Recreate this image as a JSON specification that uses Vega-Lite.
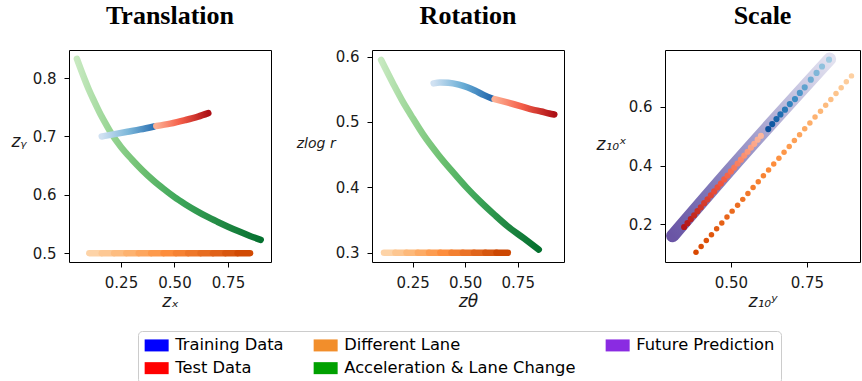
{
  "$schema": "https://vega.github.io/schema/vega-lite/v6.json",
  "background": "white",
  "padding": {"left": 10, "top": 2, "right": 0, "bottom": 0},
  "bounds": "flush",
  "spacing": 101,
  "config": {
    "view": {"stroke": "#000000", "strokeWidth": 1},
    "axis": {"domain": false, "grid": false, "ticks": true, "tickColor": "#000000", "tickSize": 5, "tickWidth": 1,
      "labelFont": "DejaVu Sans", "labelFontSize": 15, "labelColor": "#1a1a1a", "labelPadding": 8,
      "titleFont": "DejaVu Sans", "titleFontStyle": "italic", "titleFontWeight": "normal", "titleFontSize": 17, "titleColor": "#1a1a1a"},
    "axisY": {"titleAngle": 0, "titleAlign": "right", "titleBaseline": "alphabetic", "titleY": 96},
    "axisX": {"titleBaseline": "alphabetic", "titleY": 44},
    "title": {"font": "Liberation Serif", "fontSize": 26, "fontWeight": "bold", "color": "#000000", "frame": "group", "baseline": "alphabetic", "offset": 21},
    "legend": {"labelFont": "DejaVu Sans", "labelFontSize": 16.3, "labelColor": "#000000", "symbolType": "M-1,-0.8H2.2V0.8H-1Z", "symbolSize": 225,
      "labelOffset": 15, "rowPadding": 6, "columnPadding": 29, "padding": 6, "strokeColor": "#cccccc", "cornerRadius": 4, "fillColor": "#ffffff",
      "symbolStrokeWidth": 0, "symbolOpacity": 1, "labelLimit": 400}
  },
  "datasets": {
    "legend": [
      {"series": "Training Data"}, {"series": "Different Lane"}, {"series": "Future Prediction"}, {"series": "Test Data"}, {"series": "Acceleration & Lane Change"}
    ],
    "p1_green": [
      {"x": 0.044, "y": 0.833}, {"x": 0.06, "y": 0.817}, {"x": 0.08, "y": 0.798}, {"x": 0.1, "y": 0.78}, {"x": 0.125, "y": 0.76},
      {"x": 0.15, "y": 0.741}, {"x": 0.175, "y": 0.724}, {"x": 0.2, "y": 0.708}, {"x": 0.25, "y": 0.682}, {"x": 0.3, "y": 0.661},
      {"x": 0.35, "y": 0.642}, {"x": 0.4, "y": 0.625}, {"x": 0.45, "y": 0.61}, {"x": 0.5, "y": 0.596}, {"x": 0.55, "y": 0.584},
      {"x": 0.6, "y": 0.573}, {"x": 0.65, "y": 0.563}, {"x": 0.7, "y": 0.554}, {"x": 0.75, "y": 0.5455}, {"x": 0.8, "y": 0.5375},
      {"x": 0.85, "y": 0.53}, {"x": 0.903, "y": 0.523}
    ],
    "p1_orange": [
      {"x": 0.102, "x2": 0.16, "y": 0.5, "t": 0}, {"x": 0.16, "x2": 0.218, "y": 0.5, "t": 0.083}, {"x": 0.218, "x2": 0.275, "y": 0.5, "t": 0.167},
      {"x": 0.275, "x2": 0.333, "y": 0.5, "t": 0.25}, {"x": 0.333, "x2": 0.391, "y": 0.5, "t": 0.333}, {"x": 0.391, "x2": 0.449, "y": 0.5, "t": 0.417},
      {"x": 0.449, "x2": 0.507, "y": 0.5, "t": 0.5}, {"x": 0.507, "x2": 0.564, "y": 0.5, "t": 0.583}, {"x": 0.564, "x2": 0.622, "y": 0.5, "t": 0.667},
      {"x": 0.622, "x2": 0.68, "y": 0.5, "t": 0.75}, {"x": 0.68, "x2": 0.738, "y": 0.5, "t": 0.833}, {"x": 0.738, "x2": 0.795, "y": 0.5, "t": 0.917},
      {"x": 0.795, "x2": 0.853, "y": 0.5, "t": 1}
    ],
    "p1_blue": [
      {"x": 0.16, "y": 0.7}, {"x": 0.22, "y": 0.704}, {"x": 0.28, "y": 0.708}, {"x": 0.34, "y": 0.712}, {"x": 0.405, "y": 0.717}
    ],
    "p1_red": [
      {"x": 0.415, "y": 0.718}, {"x": 0.48, "y": 0.722}, {"x": 0.55, "y": 0.728}, {"x": 0.61, "y": 0.734}, {"x": 0.658, "y": 0.74}
    ],
    "p2_green": [
      {"x": 0.1, "y": 0.595}, {"x": 0.16, "y": 0.557}, {"x": 0.2, "y": 0.533}, {"x": 0.245, "y": 0.509}, {"x": 0.3, "y": 0.481},
      {"x": 0.372, "y": 0.45}, {"x": 0.44, "y": 0.424}, {"x": 0.506, "y": 0.4}, {"x": 0.57, "y": 0.379}, {"x": 0.64, "y": 0.358},
      {"x": 0.7, "y": 0.341}, {"x": 0.78, "y": 0.322}, {"x": 0.85, "y": 0.305}
    ],
    "p2_orange": [
      {"x": 0.114, "x2": 0.168, "y": 0.3, "t": 0}, {"x": 0.168, "x2": 0.221, "y": 0.3, "t": 0.1}, {"x": 0.221, "x2": 0.275, "y": 0.3, "t": 0.2},
      {"x": 0.275, "x2": 0.328, "y": 0.3, "t": 0.3}, {"x": 0.328, "x2": 0.382, "y": 0.3, "t": 0.4}, {"x": 0.382, "x2": 0.435, "y": 0.3, "t": 0.5},
      {"x": 0.435, "x2": 0.489, "y": 0.3, "t": 0.6}, {"x": 0.489, "x2": 0.542, "y": 0.3, "t": 0.7}, {"x": 0.542, "x2": 0.596, "y": 0.3, "t": 0.8},
      {"x": 0.596, "x2": 0.649, "y": 0.3, "t": 0.9}, {"x": 0.649, "x2": 0.703, "y": 0.3, "t": 1}
    ],
    "p2_blue": [
      {"x": 0.35, "y": 0.559}, {"x": 0.38, "y": 0.5605}, {"x": 0.42, "y": 0.56}, {"x": 0.47, "y": 0.557}, {"x": 0.51, "y": 0.553},
      {"x": 0.546, "y": 0.548}, {"x": 0.59, "y": 0.541}, {"x": 0.628, "y": 0.536}
    ],
    "p2_red": [
      {"x": 0.64, "y": 0.535}, {"x": 0.7, "y": 0.53}, {"x": 0.767, "y": 0.524}, {"x": 0.82, "y": 0.519}, {"x": 0.862, "y": 0.516},
      {"x": 0.9, "y": 0.513}, {"x": 0.924, "y": 0.5115}
    ],
    "p3_purple": [
      {"x": 0.308, "y": 0.161}, {"x": 0.5, "y": 0.39}, {"x": 0.825, "y": 0.762}
    ],
    "p3_orange": [
      {"x": 0.385, "y": 0.105, "t": 0}, {"x": 0.402, "y": 0.125, "t": 1}, {"x": 0.419, "y": 0.145, "t": 2}, {"x": 0.436, "y": 0.165, "t": 3},
      {"x": 0.453, "y": 0.185, "t": 4}, {"x": 0.47, "y": 0.205, "t": 5}, {"x": 0.487, "y": 0.225, "t": 6}, {"x": 0.504, "y": 0.245, "t": 7},
      {"x": 0.522, "y": 0.265, "t": 8}, {"x": 0.539, "y": 0.285, "t": 9}, {"x": 0.556, "y": 0.305, "t": 10}, {"x": 0.573, "y": 0.325, "t": 11},
      {"x": 0.59, "y": 0.345, "t": 12}, {"x": 0.607, "y": 0.365, "t": 13}, {"x": 0.624, "y": 0.385, "t": 14}, {"x": 0.641, "y": 0.405, "t": 15},
      {"x": 0.658, "y": 0.425, "t": 16}, {"x": 0.675, "y": 0.445, "t": 17}, {"x": 0.692, "y": 0.465, "t": 18}, {"x": 0.709, "y": 0.485, "t": 19},
      {"x": 0.726, "y": 0.505, "t": 20}, {"x": 0.743, "y": 0.525, "t": 21}, {"x": 0.76, "y": 0.545, "t": 22}, {"x": 0.777, "y": 0.565, "t": 23},
      {"x": 0.795, "y": 0.585, "t": 24}, {"x": 0.812, "y": 0.605, "t": 25}, {"x": 0.829, "y": 0.625, "t": 26}, {"x": 0.846, "y": 0.645, "t": 27},
      {"x": 0.863, "y": 0.665, "t": 28}, {"x": 0.88, "y": 0.685, "t": 29}, {"x": 0.897, "y": 0.705, "t": 30}
    ],
    "p3_red": [
      {"x": 0.346, "y": 0.191, "t": 0}, {"x": 0.357, "y": 0.204, "t": 1}, {"x": 0.368, "y": 0.218, "t": 2}, {"x": 0.379, "y": 0.231, "t": 3},
      {"x": 0.39, "y": 0.245, "t": 4}, {"x": 0.401, "y": 0.258, "t": 5}, {"x": 0.412, "y": 0.272, "t": 6}, {"x": 0.423, "y": 0.285, "t": 7},
      {"x": 0.434, "y": 0.299, "t": 8}, {"x": 0.445, "y": 0.312, "t": 9}, {"x": 0.456, "y": 0.326, "t": 10}, {"x": 0.467, "y": 0.339, "t": 11},
      {"x": 0.478, "y": 0.353, "t": 12}, {"x": 0.489, "y": 0.366, "t": 13}, {"x": 0.5, "y": 0.38, "t": 14}, {"x": 0.511, "y": 0.393, "t": 15},
      {"x": 0.522, "y": 0.407, "t": 16}, {"x": 0.533, "y": 0.42, "t": 17}, {"x": 0.544, "y": 0.434, "t": 18}, {"x": 0.555, "y": 0.447, "t": 19},
      {"x": 0.566, "y": 0.461, "t": 20}, {"x": 0.577, "y": 0.474, "t": 21}, {"x": 0.588, "y": 0.488, "t": 22}, {"x": 0.599, "y": 0.501, "t": 23}
    ],
    "p3_blue": [
      {"x": 0.623, "y": 0.524, "t": 0}, {"x": 0.636, "y": 0.541, "t": 1}, {"x": 0.65, "y": 0.558, "t": 2}, {"x": 0.663, "y": 0.574, "t": 3},
      {"x": 0.678, "y": 0.59, "t": 4}, {"x": 0.694, "y": 0.609, "t": 5}, {"x": 0.711, "y": 0.626, "t": 6}, {"x": 0.727, "y": 0.647, "t": 7},
      {"x": 0.743, "y": 0.666, "t": 8}, {"x": 0.763, "y": 0.692, "t": 9}, {"x": 0.782, "y": 0.715, "t": 10}, {"x": 0.8, "y": 0.737, "t": 11},
      {"x": 0.823, "y": 0.76, "t": 12}
    ]
  },
  "hconcat": [
    {
      "width": 202, "height": 212,
      "title": {"text": "Translation"},
      "resolve": {"scale": {"color": "independent"}},
      "layer": [
        {
          "data": {"name": "p1_green"},
          "mark": {"type": "line", "clip": true, "interpolate": "monotone", "strokeWidth": 6.5, "strokeCap": "round", "strokeJoin": "round",
            "color": {"gradient": "linear", "x1": 0, "y1": 0, "x2": 1, "y2": 0, "stops": [
              {"offset": 0, "color": "#c7e9c0"}, {"offset": 0.18, "color": "#98d594"}, {"offset": 0.35, "color": "#6fc072"},
              {"offset": 0.55, "color": "#3ea75a"}, {"offset": 0.8, "color": "#1f8742"}, {"offset": 1, "color": "#05702f"}]}},
          "encoding": {
            "x": {"field": "x", "type": "quantitative", "scale": {"domain": [0.007, 0.951], "nice": false, "zero": false},
              "axis": {"values": [0.25, 0.5, 0.75], "format": ".2f", "title": "zₓ"}},
            "y": {"field": "y", "type": "quantitative", "scale": {"domain": [0.485, 0.848], "nice": false, "zero": false},
              "axis": {"values": [0.5, 0.6, 0.7, 0.8], "format": ".1f", "title": "zᵧ", "titlePadding": 6, "titleY": 96}}
          }
        },
        {
          "data": {"name": "p1_orange"},
          "mark": {"type": "rule", "clip": true, "strokeWidth": 6.5, "strokeCap": "round"},
          "encoding": {
            "x": {"field": "x", "type": "quantitative"},
            "x2": {"field": "x2"},
            "y": {"field": "y", "type": "quantitative"},
            "color": {"field": "t", "type": "quantitative", "scale": {"domain": [0, 0.5, 1], "range": ["#fdd3a7", "#fd8d3c", "#d14a03"]}, "legend": null}
          }
        },
        {
          "data": {"name": "p1_blue"},
          "mark": {"type": "line", "clip": true, "interpolate": "monotone", "strokeWidth": 6.5, "strokeCap": "round", "strokeJoin": "round",
            "color": {"gradient": "linear", "x1": 0, "y1": 0, "x2": 1, "y2": 0, "stops": [
              {"offset": 0, "color": "#d0e1f2"}, {"offset": 0.5, "color": "#7db8da"}, {"offset": 1, "color": "#2b70b2"}]}},
          "encoding": {"x": {"field": "x", "type": "quantitative"}, "y": {"field": "y", "type": "quantitative"}}
        },
        {
          "data": {"name": "p1_red"},
          "mark": {"type": "line", "clip": true, "interpolate": "monotone", "strokeWidth": 6.5, "strokeCap": "round", "strokeJoin": "round",
            "color": {"gradient": "linear", "x1": 0, "y1": 0, "x2": 1, "y2": 0, "stops": [
              {"offset": 0, "color": "#fcaf93"}, {"offset": 0.45, "color": "#f5604a"}, {"offset": 1, "color": "#ad1016"}]}},
          "encoding": {"x": {"field": "x", "type": "quantitative"}, "y": {"field": "y", "type": "quantitative"}}
        },
        {
          "data": {"name": "legend"},
          "mark": {"type": "point", "filled": true, "opacity": 0},
          "encoding": {
            "color": {"field": "series", "type": "nominal",
              "scale": {"domain": ["Training Data", "Different Lane", "Future Prediction", "Test Data", "Acceleration & Lane Change"],
                "range": ["#0000ff", "#f28e2b", "#8a2be2", "#ff0000", "#00a000"]},
              "legend": {"orient": "none", "legendX": 69, "legendY": 281, "columns": 3, "title": null, "direction": "horizontal"}}
          }
        }
      ]
    },
    {
      "width": 192, "height": 212,
      "title": {"text": "Rotation"},
      "resolve": {"scale": {"color": "independent"}},
      "layer": [
        {
          "data": {"name": "p2_green"},
          "mark": {"type": "line", "clip": true, "interpolate": "monotone", "strokeWidth": 6.5, "strokeCap": "round", "strokeJoin": "round",
            "color": {"gradient": "linear", "x1": 0, "y1": 0, "x2": 1, "y2": 0, "stops": [
              {"offset": 0, "color": "#c7e9c0"}, {"offset": 0.2, "color": "#98d594"}, {"offset": 0.4, "color": "#69be6e"},
              {"offset": 0.6, "color": "#3ea75a"}, {"offset": 0.8, "color": "#1f8742"}, {"offset": 1, "color": "#05702f"}]}},
          "encoding": {
            "x": {"field": "x", "type": "quantitative", "scale": {"domain": [0.057, 0.97], "nice": false, "zero": false},
              "axis": {"values": [0.25, 0.5, 0.75], "format": ".2f", "title": "zθ"}},
            "y": {"field": "y", "type": "quantitative", "scale": {"domain": [0.286, 0.61], "nice": false, "zero": false},
              "axis": {"values": [0.3, 0.4, 0.5, 0.6], "format": ".1f", "title": "zlog r", "titlePadding": 0, "titleFontSize": 14, "titleY": 97}}
          }
        },
        {
          "data": {"name": "p2_orange"},
          "mark": {"type": "rule", "clip": true, "strokeWidth": 6.5, "strokeCap": "round"},
          "encoding": {
            "x": {"field": "x", "type": "quantitative"},
            "x2": {"field": "x2"},
            "y": {"field": "y", "type": "quantitative"},
            "color": {"field": "t", "type": "quantitative", "scale": {"domain": [0, 0.5, 1], "range": ["#fdd3a7", "#fd8d3c", "#cc4803"]}, "legend": null}
          }
        },
        {
          "data": {"name": "p2_blue"},
          "mark": {"type": "line", "clip": true, "interpolate": "monotone", "strokeWidth": 6.5, "strokeCap": "round", "strokeJoin": "round",
            "color": {"gradient": "linear", "x1": 0, "y1": 0, "x2": 1, "y2": 0, "stops": [
              {"offset": 0, "color": "#d0e1f2"}, {"offset": 0.5, "color": "#6aaed6"}, {"offset": 1, "color": "#2166ac"}]}},
          "encoding": {"x": {"field": "x", "type": "quantitative"}, "y": {"field": "y", "type": "quantitative"}}
        },
        {
          "data": {"name": "p2_red"},
          "mark": {"type": "line", "clip": true, "interpolate": "monotone", "strokeWidth": 6.5, "strokeCap": "round", "strokeJoin": "round",
            "color": {"gradient": "linear", "x1": 0, "y1": 0, "x2": 1, "y2": 0, "stops": [
              {"offset": 0, "color": "#fcaf93"}, {"offset": 0.45, "color": "#f5604a"}, {"offset": 1, "color": "#ad1016"}]}},
          "encoding": {"x": {"field": "x", "type": "quantitative"}, "y": {"field": "y", "type": "quantitative"}}
        }
      ]
    },
    {
      "width": 195, "height": 212,
      "title": {"text": "Scale"},
      "resolve": {"scale": {"color": "independent"}},
      "layer": [
        {
          "data": {"name": "p3_purple"},
          "mark": {"type": "line", "clip": true, "interpolate": "monotone", "strokeWidth": 13, "strokeCap": "round", "strokeJoin": "round",
            "color": {"gradient": "linear", "x1": 0, "y1": 1, "x2": 1, "y2": 0, "stops": [
              {"offset": 0, "color": "#6a55a5"}, {"offset": 0.25, "color": "#7f77b8"}, {"offset": 0.5, "color": "#9d98c9"},
              {"offset": 0.75, "color": "#c0bedd"}, {"offset": 1, "color": "#e2e1ef"}]}},
          "encoding": {
            "x": {"field": "x", "type": "quantitative", "scale": {"domain": [0.283, 0.925], "nice": false, "zero": false},
              "axis": {"values": [0.5, 0.75], "format": ".2f", "title": "z₁₀ʸ"}},
            "y": {"field": "y", "type": "quantitative", "scale": {"domain": [0.072, 0.793], "nice": false, "zero": false},
              "axis": {"values": [0.2, 0.4, 0.6], "format": ".1f", "title": "z₁₀ˣ", "titlePadding": 2, "titleY": 99}}
          }
        },
        {
          "data": {"name": "p3_orange"},
          "mark": {"type": "point", "clip": true, "filled": true, "opacity": 1, "size": 30, "strokeWidth": 0},
          "encoding": {
            "x": {"field": "x", "type": "quantitative"},
            "y": {"field": "y", "type": "quantitative"},
            "color": {"field": "t", "type": "quantitative", "scale": {"domain": [0, 15, 30], "range": ["#d94801", "#fd8d3c", "#fdd0a2"]}, "legend": null}
          }
        },
        {
          "data": {"name": "p3_red"},
          "mark": {"type": "point", "clip": true, "filled": true, "opacity": 1, "size": 38, "strokeWidth": 0},
          "encoding": {
            "x": {"field": "x", "type": "quantitative"},
            "y": {"field": "y", "type": "quantitative"},
            "color": {"field": "t", "type": "quantitative", "scale": {"domain": [0, 11.5, 23], "range": ["#b31319", "#f4573e", "#fcb69c"]}, "legend": null}
          }
        },
        {
          "data": {"name": "p3_blue"},
          "mark": {"type": "point", "clip": true, "filled": true, "opacity": 1, "size": 38, "strokeWidth": 0},
          "encoding": {
            "x": {"field": "x", "type": "quantitative"},
            "y": {"field": "y", "type": "quantitative"},
            "color": {"field": "t", "type": "quantitative", "scale": {"domain": [0, 6, 12], "range": ["#0a4f9b", "#3d8dc4", "#a0cbe2"]}, "legend": null}
          }
        }
      ]
    }
  ]
}
